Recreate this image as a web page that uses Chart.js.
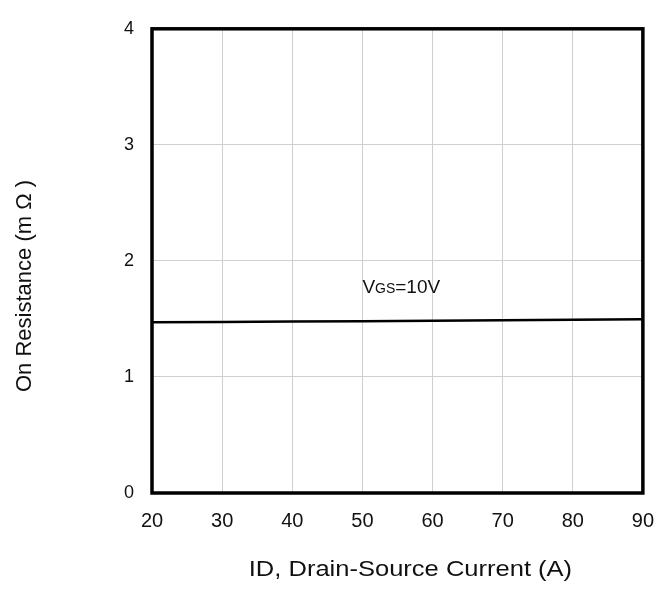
<!DOCTYPE html>
<html>
<head>
<meta charset="utf-8">
<script src="https://cdn.jsdelivr.net/npm/chart.js@4/dist/chart.umd.min.js"></script>
<style>
  html, body { margin: 0; padding: 0; background: #fff; }
  #wrap { width: 670px; height: 590px; }
</style>
</head>
<body>
<div id="wrap"><canvas id="chart" width="670" height="590"></canvas></div>
<script>
// drain current (A) and on-resistance (mOhm)
const currents = [20, 30, 40, 50, 60, 70, 80, 90];
const resistance = [1.471, 1.474, 1.477, 1.480, 1.484, 1.488, 1.492, 1.497];
const xTicks = [20, 30, 40, 50, 60, 70, 80, 90];
const yTicks = [0, 1, 2, 3, 4];
const xTitle = "ID, Drain-Source Current (A)";
const yTitle = "On Resistance (m Ω )";
const curveLabel = { main: "V", sub: "GS", rest: "=10V", x: 50, y: 1.72 };

const FONT = "'Liberation Sans', Arial, sans-serif";

// thick black frame round the plot area
const framePlugin = {
    id: "frame",
    afterDraw(chart) {
        const { ctx, chartArea: a } = chart;
        ctx.save();
        ctx.strokeStyle = "#000";
        ctx.lineWidth = 3.5;
        ctx.strokeRect(a.left, a.top, a.right - a.left, a.bottom - a.top);
        ctx.restore();
    }
};

// axis titles, placed a little off-centre like the original datasheet
const titlesPlugin = {
    id: "axisTitles",
    afterDraw(chart) {
        const { ctx, chartArea: a } = chart;
        ctx.save();
        ctx.fillStyle = "#111";
        ctx.textAlign = "center";
        ctx.textBaseline = "middle";

        // x title: slightly wide lettering
        ctx.save();
        ctx.translate((a.left + a.right) / 2 + 13, 570);
        ctx.scale(1.16, 1);
        ctx.font = "22px " + FONT;
        ctx.fillText(xTitle, 0, 0);
        ctx.restore();

        // y title, rotated
        ctx.save();
        ctx.translate(25, 286);
        ctx.rotate(-Math.PI / 2);
        ctx.font = "22px " + FONT;
        ctx.fillText(yTitle, 0, 0);
        ctx.restore();

        ctx.restore();
    }
};

// "VGS=10V" label next to the curve
const labelPlugin = {
    id: "curveLabel",
    afterDatasetsDraw(chart) {
        const { ctx, scales } = chart;
        let x = scales.x.getPixelForValue(curveLabel.x);
        const y = scales.y.getPixelForValue(curveLabel.y);
        ctx.save();
        ctx.fillStyle = "#111";
        ctx.textBaseline = "alphabetic";
        ctx.textAlign = "left";
        ctx.font = "19px " + FONT;
        ctx.fillText(curveLabel.main, x, y);
        x += ctx.measureText(curveLabel.main).width;
        ctx.font = "14px " + FONT;
        ctx.fillText(curveLabel.sub, x, y);
        x += ctx.measureText(curveLabel.sub).width;
        ctx.font = "19px " + FONT;
        ctx.fillText(curveLabel.rest, x, y);
        ctx.restore();
    }
};

new Chart(document.getElementById("chart"), {
    type: "line",
    data: {
        datasets: [{
            data: currents.map((c, i) => ({ x: c, y: resistance[i] })),
            borderColor: "#000",
            borderWidth: 2.5,
            pointRadius: 0,
            tension: 0,
            fill: false
        }]
    },
    options: {
        responsive: false,
        animation: false,
        layout: { padding: { top: 26, right: 27, left: 0, bottom: 0 } },
        plugins: { legend: { display: false }, tooltip: { enabled: false } },
        scales: {
            x: {
                type: "linear",
                min: 20,
                max: 90,
                afterBuildTicks: s => { s.ticks = xTicks.map(v => ({ value: v })); },
                afterFit: s => { s.height = 97; },
                grid: { color: "#cfcfcf", lineWidth: 1, drawTicks: false },
                border: { display: false },
                ticks: {
                    padding: 16,
                    color: "#111",
                    font: { family: FONT, size: 20 },
                    maxRotation: 0
                },
                title: { display: false }
            },
            y: {
                min: 0,
                max: 4,
                afterBuildTicks: s => { s.ticks = yTicks.map(v => ({ value: v })); },
                afterFit: s => { s.width = 152; },
                grid: { color: "#cfcfcf", lineWidth: 1, drawTicks: false },
                border: { display: false },
                ticks: {
                    padding: 18,
                    color: "#111",
                    font: { family: FONT, size: 18 }
                },
                title: { display: false }
            }
        }
    },
    plugins: [framePlugin, titlesPlugin, labelPlugin]
});
</script>
</body>
</html>
